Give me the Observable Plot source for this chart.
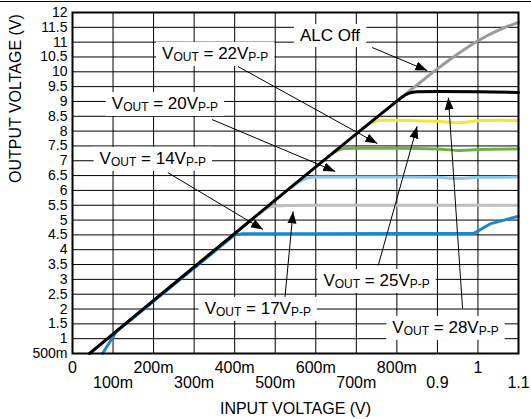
<!DOCTYPE html>
<html>
<head>
<meta charset="utf-8">
<script src="https://cdn.jsdelivr.net/npm/d3@7"></script>
<script src="https://cdn.jsdelivr.net/npm/@observablehq/plot@0.6"></script>
<style>
  html, body { margin: 0; padding: 0; background: #fff; }
  #wrap { position: relative; width: 531px; height: 419px; overflow: hidden; }
  #topline { position: absolute; left: 0; top: 1px; width: 531px; height: 1px; background: #000; }
</style>
</head>
<body>
<div id="wrap"><div id="topline"></div></div>
<script>
// ---------- axis ticks ----------
const xTickValues = [0, 0.1, 0.2, 0.3, 0.4, 0.5, 0.6, 0.7, 0.8, 0.9, 1.0, 1.1];
const xTickLabels = ["0", "100m", "200m", "300m", "400m", "500m", "600m", "700m", "800m", "0.9", "1", "1.1"];
const yTickValues = [0.5, 1, 1.5, 2, 2.5, 3, 3.5, 4, 4.5, 5, 5.5, 6, 6.5, 7, 7.5, 8, 8.5, 9, 9.5, 10, 10.5, 11, 11.5, 12];
const yTickLabels = ["500m", "1", "1.5", "2", "2.5", "3", "3.5", "4", "4.5", "5", "5.5", "6", "6.5", "7", "7.5", "8", "8.5", "9", "9.5", "10", "10.5", "11", "11.5", "12"];
const xTitle = "INPUT VOLTAGE (V)";
const yTitle = "OUTPUT VOLTAGE (V)";

// ---------- series (x = input V, y = output V) ----------
const alcOffX = [0.79, 0.81, 0.85, 0.90, 0.95, 1.00, 1.05, 1.10];
const alcOffY = [8.9, 9.12, 9.56, 10.1, 10.6, 11.05, 11.4, 11.67];

const v28X = [0.042, 0.79, 0.81, 0.83, 0.85, 0.90, 1.00, 1.10];
const v28Y = [0.5, 8.9, 9.12, 9.28, 9.33, 9.34, 9.33, 9.30];

const v25X = [0.72, 0.74, 0.76, 0.80, 0.85, 0.90, 0.95, 1.00, 1.05, 1.10];
const v25Y = [8.13, 8.3, 8.37, 8.37, 8.35, 8.33, 8.28, 8.35, 8.37, 8.35];

const v22X = [0.64, 0.655, 0.67, 0.70, 0.80, 0.90, 0.95, 1.00, 1.10];
const v22Y = [7.23, 7.36, 7.41, 7.42, 7.42, 7.40, 7.35, 7.38, 7.40];

const v20X = [0.54, 0.56, 0.58, 0.60, 0.70, 0.80, 0.90, 0.95, 1.00, 1.10];
const v20Y = [6.1, 6.3, 6.42, 6.45, 6.45, 6.45, 6.44, 6.40, 6.44, 6.45];

const v17X = [0.46, 0.48, 0.50, 0.53, 0.60, 0.80, 1.00, 1.10];
const v17Y = [5.2, 5.4, 5.47, 5.49, 5.5, 5.5, 5.5, 5.5];

const v14X = [0.074, 0.109, 0.40, 0.42, 0.60, 0.80, 0.99, 1.03, 1.10];
const v14Y = [0.5, 1.25, 4.5, 4.54, 4.54, 4.55, 4.55, 4.87, 5.13];

const seriesNames  = ["ALC Off", "17", "20", "22", "25", "14", "28"];
const seriesColors = ["#9a9a9a", "#bebebe", "#8cc7e7", "#6cb33f", "#f7e23e", "#1b87c8", "#000000"];

// ---------- annotations ----------
const labelText = ["ALC Off", "VOUT = 22VP-P", "VOUT = 20VP-P", "VOUT = 14VP-P", "VOUT = 17VP-P", "VOUT = 25VP-P", "VOUT = 28VP-P"];
const labelX = [0.635, 0.352, 0.228, 0.198, 0.457, 0.750, 0.920];
const labelY = [11.22, 10.62, 8.93, 7.08, 2.02, 2.96, 1.38];

const arrowX1 = [0.739, 0.408, 0.344, 0.235, 0.524, 0.754, 0.962];
const arrowY1 = [10.82, 10.18, 8.39, 6.60, 2.39, 3.47, 2.02];
const arrowX2 = [0.875, 0.752, 0.648, 0.470, 0.544, 0.850, 0.927];
const arrowY2 = [10.04, 7.58, 6.64, 4.68, 5.29, 8.16, 9.13];

// ---------- build tables ----------
const zip = (xs, ys) => xs.map((x, i) => ({x, y: ys[i]}));
const series = {
  "ALC Off": zip(alcOffX, alcOffY),
  "17": zip(v17X, v17Y),
  "20": zip(v20X, v20Y),
  "22": zip(v22X, v22Y),
  "25": zip(v25X, v25Y),
  "14": zip(v14X, v14Y),
  "28": zip(v28X, v28Y)
};
const labels = labelText.map((t, i) => ({t, x: labelX[i], y: labelY[i]}));
const arrows = arrowX1.map((x1, i) => ({x1, y1: arrowY1[i], x2: arrowX2[i], y2: arrowY2[i]}));
const xFmt = new Map(xTickValues.map((v, i) => [v, xTickLabels[i]]));
const yFmt = new Map(yTickValues.map((v, i) => [v, yTickLabels[i]]));
const xEven = xTickValues.filter((d, i) => i % 2 === 0);
const xOdd = xTickValues.filter((d, i) => i % 2 === 1);
const xGrid = xTickValues.slice(1, -1);
const yGrid = yTickValues.slice(1, -1);

const lineMarks = seriesNames.map((name, i) =>
  Plot.line(series[name], {
    x: "x", y: "y",
    stroke: seriesColors[i],
    strokeWidth: 3,
    curve: name === "14" ? "linear" : "monotone-x"
  })
);

const chart = Plot.plot({
  width: 531,
  height: 419,
  marginLeft: 72,
  marginRight: 13,
  marginTop: 12,
  marginBottom: 66,
  x: {domain: [0, 1.1]},
  y: {domain: [0.5, 12]},
  style: {fontFamily: "'Liberation Sans', Arial, sans-serif", fontSize: "15px", color: "#000", background: "transparent", overflow: "visible"},
  marks: [
    Plot.ruleX(xGrid, {stroke: "#000", strokeWidth: 1}),
    Plot.ruleY(yGrid, {stroke: "#000", strokeWidth: 1}),
    ...lineMarks,
    Plot.frame({stroke: "#000", strokeWidth: 2}),
    Plot.axisY(yTickValues, {tickSize: 0, tickPadding: 5, tickFormat: d => yFmt.get(d), label: null, fontSize: 14}),
    Plot.axisX(xEven, {tickSize: 0, tickPadding: 8, tickFormat: d => xFmt.get(d), label: null, fontSize: 16}),
    Plot.axisX(xOdd, {tickSize: 0, tickPadding: 23, tickFormat: d => xFmt.get(d), label: null, fontSize: 16}),
    Plot.text([xTitle], {frameAnchor: "bottom", dy: 60, fontSize: 16}),
    Plot.text([yTitle], {frameAnchor: "left", dx: -57, rotate: -90, fontSize: 16}),
    Plot.link(arrows, {x1: "x1", y1: "y1", x2: "x2", y2: "y2", stroke: "#000", strokeWidth: 1, markerEnd: "arrow"}),
    Plot.text(labels, {x: "x", y: "y", text: "t", fontSize: 17, fill: "#000"})
  ]
});

document.getElementById("wrap").appendChild(chart);

// filled triangular arrowheads
d3.select(chart).selectAll("marker").each(function () {
  const m = d3.select(this);
  m.attr("viewBox", "-12 -6 12 12")
   .attr("markerWidth", 12).attr("markerHeight", 12)
   .attr("fill", "#000").attr("stroke", "none");
  m.selectAll("path").attr("d", "M-12,-4.5L0,0L-12,4.5Z");
});

// subscripts + white label boxes
const pattern = /^VOUT = (\d+)VP-P$/;
d3.select(chart).selectAll("text").each(function () {
  const el = this;
  const txt = el.textContent;
  if (!labelText.includes(txt)) return;
  const m = txt.match(pattern);
  if (m) {
    const t = d3.select(el);
    t.text(null);
    t.append("tspan").text("V");
    t.append("tspan").attr("font-size", 12).attr("dy", 2).text("OUT");
    t.append("tspan").attr("dy", -2).text(` = ${m[1]}V`);
    t.append("tspan").attr("font-size", 12).attr("dy", 2).text("P-P");
  }
  const b = el.getBBox();
  const padX = 6, padY = 2;
  const rect = d3.select(el.parentNode).insert("rect", () => el)
    .attr("x", b.x - padX).attr("y", b.y - padY)
    .attr("width", b.width + 2 * padX).attr("height", b.height + 2 * padY)
    .attr("fill", "#fff");
  const tr = el.getAttribute("transform");
  if (tr) rect.attr("transform", tr);
  if (el.getAttribute("x") != null && !tr) {
    // x/y already included in bbox
  }
});
</script>
</body>
</html>
